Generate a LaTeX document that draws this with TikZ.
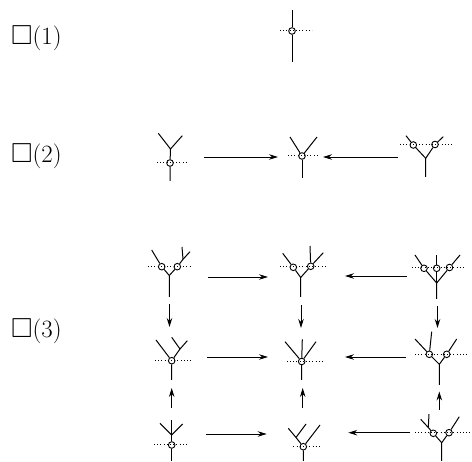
\documentclass[tikz,border=0pt]{standalone}
\usepackage{amssymb}
\usetikzlibrary{arrows.meta}
\begin{document}
\begin{tikzpicture}[x=1pt,y=-1pt,
  tline/.style={line width=1pt},
  dotline/.style={line width=1pt, dash pattern=on 1pt off 2.2pt},
  vtx/.style={circle,draw,line width=0.9pt,inner sep=0pt,minimum size=6.6pt},
  arr/.style={line width=0.9pt,-{Stealth[length=9pt,width=5.5pt,inset=3pt]}},
  lbl/.style={anchor=base west,inner sep=0pt,font=\fontsize{27.5}{32}\selectfont}]
\useasboundingbox (0,0) rectangle (472,462);
% labels
\node[lbl] (L1) at (11,45) {$\square(1)$};
\node[lbl] (L2) at (11,163) {$\square(2)$};
\node[lbl] (L3) at (11,338) {$\square(3)$};

% ---------- row 1
\draw[dotline] (280,31) -- (312,31);
\node[vtx] (a1) at (292,31) {};
\coordinate (a1t) at (292,10); \coordinate (a1b) at (292,62);
\draw[tline] (a1t) -- (a1) -- (a1b);

% ---------- row 2
% g21
\draw[dotline] (157,163) -- (186,163);
\node[vtx] (b1) at (170,163) {};
\coordinate (b1j) at (170.5,149); \coordinate (b1l) at (158.3,133.3);
\coordinate (b1r) at (182.3,135.7); \coordinate (b1s) at (170,181);
\draw[tline] (b1s) -- (b1) -- (b1j) -- (b1l);
\draw[tline] (b1j) -- (b1r);
% g22
\draw[dotline] (288,156) -- (317,156);
\node[vtx] (b2) at (302,156) {};
\coordinate (b2l) at (290,137); \coordinate (b2r) at (317,137); \coordinate (b2s) at (302,178);
\draw[tline] (b2l) -- (b2) -- (b2r);
\draw[tline] (b2) -- (b2s);
% g23
\draw[dotline] (400,145) -- (452,145);
\node[vtx] (b3a) at (413.3,145) {};
\node[vtx] (b3b) at (435,144.5) {};
\coordinate (b3j) at (425.7,158.3); \coordinate (b3s) at (425.7,177);
\coordinate (b3l) at (406,135.7); \coordinate (b3r) at (443.3,136.7);
\draw[tline] (b3s) -- (b3j) -- (b3a) -- (b3l);
\draw[tline] (b3j) -- (b3b) -- (b3r);
% arrows row 2
\coordinate (r2a) at (204,157); \coordinate (r2b) at (278,157);
\coordinate (r2c) at (398,157); \coordinate (r2d) at (323,157);
\draw[arr] (r2a) -- (r2b);
\draw[arr] (r2c) -- (r2d);

% ---------- row 3 top
% g31
\draw[dotline] (148,267) -- (190,267);
\node[vtx] (c1a) at (161.7,266.7) {};
\node[vtx] (c1b) at (177.3,266.7) {};
\coordinate (c1j) at (169.3,275.5); \coordinate (c1s) at (169.3,297);
\coordinate (c1l) at (151.7,250); \coordinate (c1n) at (183,259.3);
\coordinate (c1r) at (190,251.7); \coordinate (c1u) at (182,247);
\draw[tline] (c1s) -- (c1j) -- (c1a) -- (c1l);
\draw[tline] (c1j) -- (c1b) -- (c1n) -- (c1r);
\draw[tline] (c1n) -- (c1u);
% g32
\draw[dotline] (280,267) -- (327,267);
\node[vtx] (c2a) at (293.3,267.3) {};
\node[vtx] (c2b) at (310.7,266.3) {};
\coordinate (c2j) at (300.7,277.5); \coordinate (c2s) at (300.7,297);
\coordinate (c2l) at (282.7,253.3); \coordinate (c2r) at (323.3,252.7); \coordinate (c2u) at (310,246);
\draw[tline] (c2s) -- (c2j) -- (c2a) -- (c2l);
\draw[tline] (c2j) -- (c2b) -- (c2r);
\draw[tline] (c2b) -- (c2u);
% g33
\draw[dotline] (411.7,268) -- (463.3,268);
\node[vtx] (c3a) at (424,268.3) {};
\node[vtx] (c3b) at (436.7,268.3) {};
\node[vtx] (c3c) at (449.5,267.5) {};
\coordinate (c3j) at (436.7,283); \coordinate (c3s) at (436.7,299);
\coordinate (c3l) at (415,255); \coordinate (c3m) at (436.7,255); \coordinate (c3r) at (460,255);
\draw[tline] (c3s) -- (c3j) -- (c3a) -- (c3l);
\draw[tline] (c3j) -- (c3b) -- (c3m);
\draw[tline] (c3j) -- (c3c) -- (c3r);
% arrows
\coordinate (r3a) at (208,277); \coordinate (r3b) at (268,277);
\coordinate (r3c) at (407,276); \coordinate (r3d) at (345,276);
\draw[arr] (r3a) -- (r3b);
\draw[arr] (r3c) -- (r3d);
\coordinate (v1a) at (169.5,304); \coordinate (v1b) at (169.5,327);
\coordinate (v2a) at (301,305); \coordinate (v2b) at (301,328);
\coordinate (v3a) at (437.5,306); \coordinate (v3b) at (437.5,328);
\draw[arr] (v1a) -- (v1b);
\draw[arr] (v2a) -- (v2b);
\draw[arr] (v3a) -- (v3b);

% ---------- row 3 middle
% g41
\draw[dotline] (155,361) -- (193,361);
\node[vtx] (d1) at (171.7,360.7) {};
\coordinate (d1s) at (171.7,380); \coordinate (d1l) at (156,340);
\coordinate (d1n) at (180,349); \coordinate (d1r) at (187.3,340.7); \coordinate (d1u) at (171.7,337.3);
\draw[tline] (d1l) -- (d1) -- (d1s);
\draw[tline] (d1) -- (d1n) -- (d1r);
\draw[tline] (d1n) -- (d1u);
% g42
\draw[dotline] (286.7,361.5) -- (323.3,361.5);
\node[vtx] (d2) at (301.7,361.5) {};
\coordinate (d2s) at (301.7,380); \coordinate (d2l) at (285,341.7);
\coordinate (d2m) at (302.3,339.3); \coordinate (d2r) at (316,341.7);
\draw[tline] (d2l) -- (d2) -- (d2s);
\draw[tline] (d2m) -- (d2) -- (d2r);
% g43
\draw[dotline] (415,354.3) -- (466.7,354.3);
\node[vtx] (d3a) at (429.3,354.3) {};
\node[vtx] (d3b) at (446.7,354.3) {};
\coordinate (d3j) at (439.3,364.3); \coordinate (d3s) at (439.3,385);
\coordinate (d3l) at (415,339); \coordinate (d3u) at (431.7,331.7); \coordinate (d3r) at (456.7,339);
\draw[tline] (d3s) -- (d3j) -- (d3a) -- (d3l);
\draw[tline] (d3a) -- (d3u);
\draw[tline] (d3j) -- (d3b) -- (d3r);
% arrows
\coordinate (r4a) at (207,357); \coordinate (r4b) at (268,357);
\coordinate (r4c) at (406,357); \coordinate (r4d) at (345,357);
\draw[arr] (r4a) -- (r4b);
\draw[arr] (r4c) -- (r4d);
\coordinate (w1a) at (171.7,408); \coordinate (w1b) at (171.7,388);
\coordinate (w2a) at (302.7,408); \coordinate (w2b) at (302.7,388);
\coordinate (w3a) at (439.3,410); \coordinate (w3b) at (439.3,391.5);
\draw[arr] (w1a) -- (w1b);
\draw[arr] (w2a) -- (w2b);
\draw[arr] (w3a) -- (w3b);

% ---------- row 3 bottom
% g51
\draw[dotline] (154,445) -- (188.3,445);
\node[vtx] (e1) at (171.7,445) {};
\coordinate (e1j) at (171.7,435); \coordinate (e1s) at (171.7,461);
\coordinate (e1l) at (160,423.3); \coordinate (e1m) at (171.7,420); \coordinate (e1r) at (182.7,424);
\draw[tline] (e1s) -- (e1) -- (e1j) -- (e1m);
\draw[tline] (e1l) -- (e1j) -- (e1r);
% g52
\draw[dotline] (293.3,446.7) -- (321.7,446.7);
\node[vtx] (e2) at (303.3,446.7) {};
\coordinate (e2s) at (303.3,461); \coordinate (e2n) at (296,437.5);
\coordinate (e2l) at (288.3,428.3); \coordinate (e2u) at (306,424); \coordinate (e2r) at (320,425);
\draw[tline] (e2s) -- (e2) -- (e2n) -- (e2l);
\draw[tline] (e2n) -- (e2u);
\draw[tline] (e2) -- (e2r);
% g53
\draw[dotline] (415,433) -- (470,433);
\node[vtx] (e3a) at (433.3,433.3) {};
\node[vtx] (e3b) at (449,432.7) {};
\coordinate (e3j) at (441.7,442.7); \coordinate (e3s) at (441.7,461);
\coordinate (e3n) at (428.3,427.5); \coordinate (e3l) at (420.7,419.3); \coordinate (e3u) at (429,414);
\coordinate (e3r) at (459.3,416.7);
\draw[tline] (e3s) -- (e3j) -- (e3a) -- (e3n) -- (e3l);
\draw[tline] (e3n) -- (e3u);
\draw[tline] (e3j) -- (e3b) -- (e3r);
% arrows
\coordinate (r5a) at (206,434); \coordinate (r5b) at (266.7,434);
\coordinate (r5c) at (410,432.7); \coordinate (r5d) at (348.3,432.7);
\draw[arr] (r5a) -- (r5b);
\draw[arr] (r5c) -- (r5d);
\end{tikzpicture}
\end{document}
